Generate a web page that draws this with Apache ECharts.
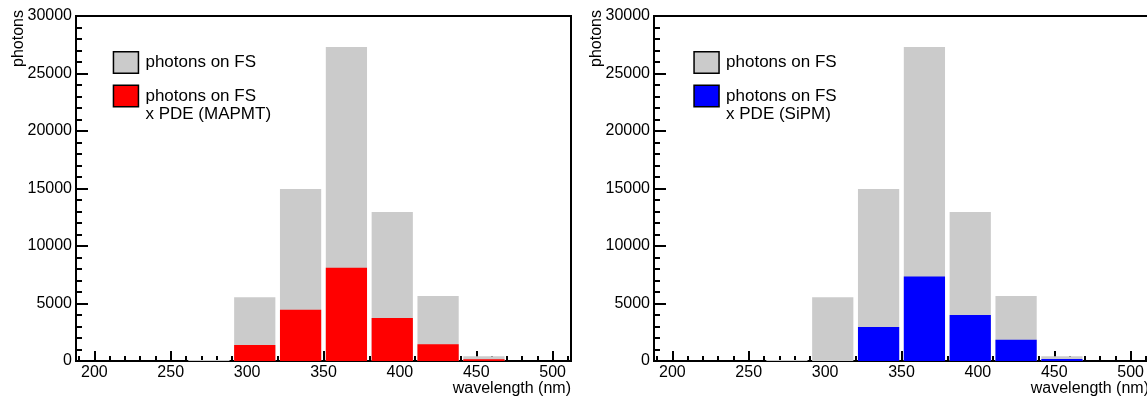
<!DOCTYPE html>
<html><head><meta charset="utf-8">
<script src="https://cdn.jsdelivr.net/npm/echarts@6/dist/echarts.min.js"></script>
<style>html,body{margin:0;padding:0;background:#fff}#c{width:1147px;height:398px}</style>
</head><body><div id="c"></div>
<script>
// ---- data ----
const binEdges = [260, 290, 320, 350, 380, 410, 440, 470];
const photonsOnFS = [80, 5550, 14950, 27300, 12950, 5650, 420];
const photonsMAPMT = [0, 1400, 4450, 8100, 3750, 1450, 150];
const photonsSiPM = [0, 0, 2950, 7350, 4000, 1850, 170];
const xMajorTicks = [200, 250, 300, 350, 400, 450, 500];
const xMinorTicks = [190, 210, 220, 230, 240, 260, 270, 280, 290, 310, 320, 330, 340, 360, 370, 380, 390, 410, 420, 430, 440, 460, 470, 480, 490, 510];
const xRange = [188, 512];
const yRange = [0, 30000];
const yStep = 5000;
const nameFS = 'photons on FS';
const nameMAPMT = 'photons on FS\nx PDE (MAPMT)';
const nameSiPM = 'photons on FS\nx PDE (SiPM)';
const xTitle = 'wavelength (nm)';
const yTitle = 'photons';

function toBins(vals) {
  return vals.map((v, i) => [binEdges[i], binEdges[i + 1], v]);
}

const FONT = 'Liberation Sans, Arial, Helvetica, sans-serif';
const BLACK = '#000';

function renderBar(params, api) {
  const lo = api.value(0), hi = api.value(1), v = api.value(2);
  if (!v) return null;
  const p0 = api.coord([lo, v]);
  const p1 = api.coord([hi, 0]);
  const inset = 2.3;
  return {
    type: 'rect',
    shape: { x: p0[0] + inset, y: p0[1], width: p1[0] - p0[0] - 2 * inset, height: p1[1] - p0[1] },
    style: { fill: api.visual('color') }
  };
}

function majorX(grid) {
  return {
    type: 'value', gridIndex: grid, position: 'bottom', min: xRange[0], max: xRange[1],
    name: xTitle, nameLocation: 'end', nameGap: 0, nameMoveOverlap: false,
    nameTextStyle: { align: 'right', verticalAlign: 'top', padding: [20, 0, 0, 0], fontSize: 16, color: BLACK, fontFamily: FONT },
    axisLine: { show: true, onZero: false, lineStyle: { color: BLACK, width: 2 } },
    axisTick: { show: true, inside: true, length: 10, customValues: xMajorTicks, lineStyle: { color: BLACK, width: 2 } },
    axisLabel: { show: true, customValues: xMajorTicks, margin: 4, fontSize: 16, color: BLACK, fontFamily: FONT, formatter: v => String(v) },
    splitLine: { show: false }
  };
}
function minorX(grid) {
  return {
    type: 'value', gridIndex: grid, position: 'bottom', min: xRange[0], max: xRange[1],
    axisLine: { show: false, onZero: false },
    axisTick: { show: true, inside: true, length: 5, customValues: xMinorTicks, lineStyle: { color: BLACK, width: 2 } },
    axisLabel: { show: false },
    splitLine: { show: false }
  };
}
function yAx(grid) {
  return {
    type: 'value', gridIndex: grid, min: yRange[0], max: yRange[1], interval: yStep,
    name: yTitle, nameLocation: 'end', nameRotate: 90, nameGap: 6, nameMoveOverlap: false,
    nameTextStyle: { align: 'right', verticalAlign: 'bottom', padding: [0, 0, 49, 0], fontSize: 16, color: BLACK, fontFamily: FONT },
    axisLine: { show: true, onZero: false, lineStyle: { color: BLACK, width: 2 } },
    axisTick: { show: true, inside: true, length: 12, lineStyle: { color: BLACK, width: 2 } },
    minorTick: { show: true, splitNumber: 5, length: 6, lineStyle: { color: BLACK, width: 2 } },
    axisLabel: { margin: 4, fontSize: 16, color: BLACK, fontFamily: FONT, formatter: v => String(v) },
    splitLine: { show: false }, minorSplitLine: { show: false }
  };
}
function legendFS(left) {
  return {
    left: left, top: 49, orient: 'vertical', padding: 0, selectedMode: false,
    data: [nameFS], icon: 'rect', itemWidth: 25, itemHeight: 21.5,
    itemStyle: { borderColor: BLACK, borderWidth: 1.5 },
    textStyle: { fontSize: 17, lineHeight: 17, color: BLACK, fontFamily: FONT, padding: [10, 0, 0, 2] }
  };
}
function legendPDE(left, name) {
  return {
    left: left, top: 65, orient: 'vertical', padding: 0, selectedMode: false,
    data: [name], icon: 'rect', itemWidth: 25, itemHeight: 21.5,
    itemStyle: { borderColor: BLACK, borderWidth: 1.5 },
    formatter: n => '\n' + n,
    textStyle: { fontSize: 17, lineHeight: 18, color: BLACK, fontFamily: FONT, padding: [8, 0, 0, 2] }
  };
}
function barSeries(name, vals, color, xi, yi) {
  return {
    type: 'custom', name: name, xAxisIndex: xi, yAxisIndex: yi,
    renderItem: renderBar, encode: { x: [0, 1], y: 2 },
    itemStyle: { color: color }, data: toBins(vals), silent: true
  };
}

const chart = echarts.init(document.getElementById('c'), null, { renderer: 'canvas' });
chart.setOption({
  animation: false,
  backgroundColor: '#fff',
  textStyle: { fontFamily: FONT },
  grid: [
    { left: 76, top: 16, width: 495, height: 345, show: true, borderColor: BLACK, borderWidth: 2, backgroundColor: 'transparent', containLabel: false, outerBoundsMode: 'none' },
    { left: 654, top: 16, width: 495, height: 345, show: true, borderColor: BLACK, borderWidth: 2, backgroundColor: 'transparent', containLabel: false, outerBoundsMode: 'none' }
  ],
  xAxis: [majorX(0), minorX(0), majorX(1), minorX(1)],
  yAxis: [yAx(0), yAx(1)],
  legend: [legendFS(112.7), legendPDE(112.7, nameMAPMT), legendFS(693.3), legendPDE(693.3, nameSiPM)],
  series: [
    barSeries(nameFS, photonsOnFS, '#cbcbcb', 0, 0),
    barSeries(nameMAPMT, photonsMAPMT, '#ff0000', 0, 0),
    barSeries(nameFS, photonsOnFS, '#cbcbcb', 2, 1),
    barSeries(nameSiPM, photonsSiPM, '#0000ff', 2, 1)
  ]
});
</script>
</body></html>
